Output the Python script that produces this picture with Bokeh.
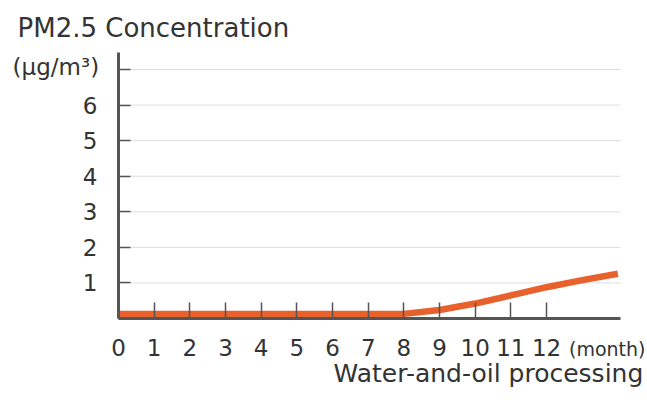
from bokeh.plotting import figure
from bokeh.models import Range1d, FixedTicker, Label, LinearAxis
from bokeh.embed import file_html
from bokeh.resources import INLINE

# Data
months = [0, 1, 2, 3, 4, 5, 6, 7, 8, 9, 10, 11, 12, 13, 14]
pm25 = [0.13, 0.13, 0.13, 0.13, 0.13, 0.13, 0.13, 0.13, 0.13, 0.24, 0.42, 0.65, 0.88, 1.08, 1.26]
x_ticks = [0, 1, 2, 3, 4, 5, 6, 7, 8, 9, 10, 11, 12]
y_ticks = [1, 2, 3, 4, 5, 6, 7]
y_tick_labels = {1: "1", 2: "2", 3: "3", 4: "4", 5: "5", 6: "6", 7: ""}
x_max = 14.07
y_max = 7.48
title_text = "PM2.5 Concentration"
unit_text = "(μg/m³)"
month_text = "(month)"
xlabel_text = "Water-and-oil processing"

FONT = "DejaVu Sans"
TXT = "#333333"

# frame covers the whole canvas; axes are pinned at 0 with bounds
p = figure(width=647, height=400, output_backend="svg", toolbar_location=None,
           x_range=Range1d(-3.308, 14.83), y_range=Range1d(-2.305, 8.94),
           x_axis_location=None, y_axis_location=None,
           min_border=0)
p.outline_line_color = None
p.background_fill_color = "white"
p.xgrid.visible = False
p.ygrid.visible = False

# horizontal grid lines spanning the plotting area only
p.segment(x0=[0] * len(y_ticks), y0=y_ticks, x1=[x_max] * len(y_ticks), y1=y_ticks,
          line_color="#dddddd", line_width=1)

p.line(months, pm25, line_color="#E8602C", line_width=6.5)

xaxis = LinearAxis(fixed_location=0, bounds=(0, x_max), ticker=FixedTicker(ticks=x_ticks))
yaxis = LinearAxis(fixed_location=0, bounds=(0, y_max), ticker=FixedTicker(ticks=y_ticks),
                   major_label_overrides=y_tick_labels)
for ax in (xaxis, yaxis):
    ax.axis_line_color = "#555555"
    ax.axis_line_width = 3
    ax.major_tick_line_color = "#555555"
    ax.major_tick_line_width = 1.5
    ax.minor_tick_line_color = None
    ax.major_tick_out = 0
    ax.major_label_text_font = FONT
    ax.major_label_text_font_size = "23px"
    ax.major_label_text_color = TXT
xaxis.major_tick_in = 16
xaxis.major_label_standoff = 20
yaxis.major_tick_in = 12
yaxis.major_label_standoff = 21
p.add_layout(xaxis, "below")
p.add_layout(yaxis, "left")

# texts placed in data coordinates
p.add_layout(Label(x=-2.83, y=8.17, text=title_text,
                   text_font=FONT, text_font_size="26px", text_color=TXT,
                   text_baseline="alphabetic"))
p.add_layout(Label(x=-2.97, y=7.08, text=unit_text,
                   text_font=FONT, text_font_size="23px", text_color=TXT,
                   text_baseline="alphabetic"))
p.add_layout(Label(x=12.63, y=-0.86, text=month_text,
                   text_font=FONT, text_font_size="19px", text_color=TXT,
                   text_baseline="alphabetic"))
p.add_layout(Label(x=6.03, y=-1.56, text=xlabel_text,
                   text_font=FONT, text_font_size="25px", text_color=TXT,
                   text_baseline="alphabetic"))

open("out.html", "w").write(file_html(p, INLINE))
